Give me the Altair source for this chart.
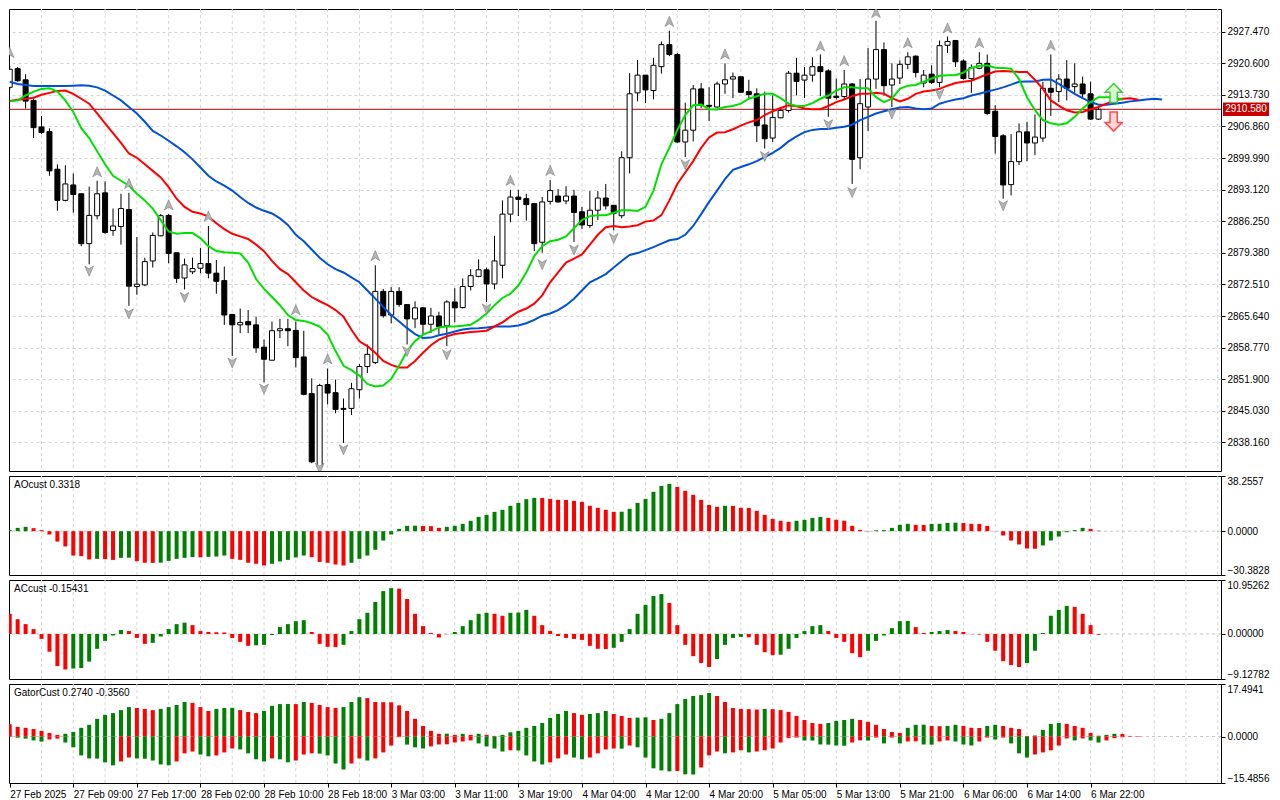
import json
import altair as alt
import pandas as pd

# ---------------- data ----------------
OPEN = [2915.35, 2919.41, 2916.99, 2912.51, 2906.74, 2905.74, 2897.55, 2890.78, 2894.13, 2892.21,
        2881.37, 2887.44, 2892.42, 2884.24, 2885.09, 2888.79, 2872.06, 2872.40, 2877.61, 2883.08,
        2887.51, 2879.39, 2873.90, 2875.26, 2876.03, 2877.04, 2874.96, 2873.34, 2865.99, 2863.72,
        2864.43, 2863.72, 2858.87, 2856.03, 2862.44, 2862.87, 2862.51, 2856.74, 2848.77, 2832.87,
        2850.75, 2848.98, 2845.56, 2845.56, 2849.62, 2854.66, 2855.52, 2870.99, 2865.86, 2870.99,
        2868.13, 2865.01, 2867.42, 2863.85, 2865.65, 2863.51, 2868.70, 2867.48, 2872.06, 2874.26,
        2875.69, 2872.61, 2876.67, 2887.79, 2891.50, 2891.14, 2890.07, 2881.67, 2890.56, 2891.72,
        2890.65, 2891.72, 2888.30, 2885.31, 2888.64, 2891.29, 2889.71, 2887.44, 2900.05, 2914.15,
        2918.00, 2914.65, 2919.84, 2924.63, 2922.49, 2903.47, 2906.03, 2915.01, 2911.44, 2911.08,
        2916.08, 2917.15, 2917.64, 2914.43, 2913.94, 2907.17, 2904.33, 2908.73, 2910.31, 2918.43,
        2916.93, 2918.00, 2919.84, 2918.92, 2913.43, 2913.36, 2916.08, 2900.05, 2911.08, 2917.15,
        2923.56, 2915.86, 2917.36, 2920.35, 2922.13, 2916.29, 2918.21, 2916.42, 2924.48, 2925.54,
        2921.06, 2917.27, 2919.50, 2920.57, 2910.16, 2904.82, 2894.20, 2899.20, 2905.67, 2903.26,
        2904.33, 2915.14, 2914.43, 2917.15, 2915.50, 2916.08, 2913.94, 2908.45]
HIGH = [2919.99, 2919.77, 2918.21, 2912.87, 2909.09, 2906.46, 2898.62, 2898.41, 2896.63, 2892.30,
        2893.77, 2895.05, 2894.92, 2889.00, 2892.21, 2892.42, 2882.81, 2878.32, 2883.81, 2887.79,
        2887.79, 2879.39, 2878.11, 2878.32, 2880.46, 2885.22, 2877.83, 2876.40, 2865.99, 2867.27,
        2866.93, 2865.50, 2860.52, 2864.43, 2865.01, 2865.01, 2864.43, 2862.44, 2852.10, 2850.90,
        2854.24, 2851.82, 2847.70, 2851.12, 2855.18, 2859.45, 2876.67, 2871.54, 2871.91, 2871.91,
        2868.13, 2868.85, 2867.63, 2867.42, 2866.57, 2869.07, 2871.69, 2873.83, 2875.82, 2877.96,
        2876.18, 2883.08, 2890.78, 2893.06, 2893.06, 2892.21, 2890.07, 2891.50, 2895.20, 2893.28,
        2893.85, 2893.06, 2889.37, 2892.79, 2892.79, 2894.35, 2889.71, 2901.46, 2918.43, 2921.27,
        2918.00, 2921.76, 2925.33, 2927.68, 2922.83, 2912.02, 2915.86, 2916.29, 2915.35, 2916.57,
        2920.57, 2918.56, 2917.64, 2917.00, 2915.14, 2914.43, 2913.58, 2910.86, 2918.92, 2921.76,
        2919.77, 2921.91, 2922.49, 2919.28, 2917.27, 2919.13, 2916.29, 2917.15, 2923.90, 2929.82,
        2925.12, 2920.57, 2921.21, 2922.98, 2922.28, 2919.13, 2920.14, 2925.54, 2926.40, 2925.54,
        2921.42, 2920.35, 2922.98, 2922.49, 2911.44, 2905.18, 2905.18, 2907.53, 2907.87, 2909.45,
        2916.57, 2922.49, 2918.21, 2921.27, 2920.57, 2917.70, 2916.57, 2910.86]
LOW = [2914.86, 2916.57, 2910.74, 2904.33, 2905.18, 2896.12, 2888.51, 2890.56, 2888.08, 2880.82,
       2876.89, 2886.65, 2883.51, 2883.08, 2881.16, 2867.85, 2870.26, 2872.12, 2876.18, 2882.96,
       2877.10, 2872.83, 2871.42, 2874.75, 2874.96, 2873.83, 2870.48, 2863.72, 2856.95, 2861.93,
       2861.93, 2857.65, 2851.24, 2856.03, 2860.86, 2859.09, 2854.45, 2848.40, 2833.66, 2832.74,
       2846.42, 2844.49, 2838.08, 2844.13, 2847.70, 2853.25, 2855.18, 2865.28, 2864.07, 2867.63,
       2859.45, 2863.00, 2861.59, 2861.93, 2861.59, 2859.09, 2864.28, 2867.27, 2871.20, 2874.05,
       2868.70, 2871.42, 2873.83, 2886.01, 2887.36, 2886.38, 2879.75, 2879.39, 2889.86, 2890.29,
       2889.92, 2881.74, 2884.52, 2884.73, 2886.50, 2888.79, 2884.24, 2886.87, 2896.63, 2912.30,
       2911.93, 2912.72, 2918.34, 2922.13, 2903.26, 2900.18, 2903.60, 2910.86, 2908.02, 2910.95,
       2913.94, 2913.00, 2914.15, 2913.00, 2903.47, 2902.04, 2903.47, 2908.60, 2909.88, 2913.58,
       2913.00, 2916.57, 2913.43, 2908.94, 2912.72, 2912.72, 2894.35, 2897.55, 2905.88, 2915.01,
       2913.58, 2911.08, 2916.08, 2919.28, 2917.49, 2915.35, 2916.08, 2915.35, 2922.83, 2919.77,
       2917.00, 2914.15, 2919.28, 2909.30, 2900.97, 2891.14, 2891.85, 2898.47, 2899.32, 2900.61,
       2903.47, 2909.15, 2912.15, 2912.51, 2914.15, 2912.87, 2908.24, 2908.24]
CLOSE = [2919.28, 2916.78, 2912.36, 2906.59, 2905.52, 2897.19, 2890.78, 2894.35, 2892.06, 2881.37,
         2887.51, 2892.21, 2883.81, 2885.22, 2889.00, 2872.12, 2872.55, 2877.46, 2883.17, 2887.44,
         2879.24, 2873.83, 2876.76, 2875.97, 2877.04, 2874.96, 2873.19, 2865.86, 2863.72, 2864.22,
         2863.72, 2858.72, 2856.24, 2862.44, 2862.87, 2862.44, 2856.59, 2848.62, 2833.94, 2850.54,
         2848.89, 2845.35, 2845.35, 2849.83, 2854.66, 2857.31, 2870.99, 2865.71, 2870.99, 2868.13,
         2865.01, 2867.42, 2863.85, 2865.65, 2863.36, 2868.70, 2867.42, 2872.06, 2874.41, 2875.69,
         2872.61, 2877.61, 2887.79, 2891.50, 2890.99, 2889.86, 2881.37, 2890.44, 2892.91, 2890.44,
         2891.72, 2888.15, 2885.44, 2888.64, 2891.29, 2889.58, 2887.94, 2900.05, 2913.94, 2918.00,
         2914.80, 2920.14, 2924.63, 2922.49, 2903.47, 2906.03, 2915.01, 2911.59, 2911.23, 2916.08,
         2917.00, 2917.64, 2914.28, 2913.79, 2907.02, 2904.18, 2908.81, 2910.31, 2918.43, 2916.63,
         2918.00, 2919.84, 2918.77, 2913.00, 2913.15, 2916.08, 2899.69, 2911.80, 2917.15, 2923.56,
         2915.71, 2917.15, 2920.35, 2921.98, 2918.56, 2918.00, 2916.42, 2924.41, 2925.33, 2920.91,
         2917.27, 2919.63, 2920.57, 2909.67, 2904.67, 2894.13, 2899.20, 2905.67, 2903.26, 2904.54,
         2915.14, 2914.28, 2917.15, 2915.14, 2916.08, 2913.94, 2908.45, 2910.58]

# Alligator (jaw blue, teeth red, lips green), drawn with their forward shift
JAW = [2916.57, 2916.08, 2915.86, 2915.65, 2915.65, 2915.65, 2915.65, 2915.65, 2915.71, 2915.78,
       2915.71, 2915.35, 2914.65, 2913.58, 2912.51, 2911.08, 2909.67, 2907.87, 2905.88, 2904.88,
       2903.75, 2902.53, 2901.25, 2899.69, 2897.91, 2896.12, 2894.88, 2893.98, 2892.91, 2891.50,
       2890.22, 2889.22, 2888.51, 2887.94, 2886.87, 2885.44, 2883.30, 2881.89, 2880.09, 2878.32,
       2876.89, 2875.82, 2875.11, 2874.05, 2872.98, 2871.20, 2869.41, 2867.63, 2865.86, 2864.43,
       2863.00, 2861.72, 2860.86, 2860.95, 2861.44, 2861.80, 2862.29, 2862.72, 2862.93, 2863.00,
       2863.15, 2863.36, 2863.36, 2863.36, 2863.57, 2864.07, 2864.79, 2865.71, 2866.20, 2866.93,
       2868.00, 2869.41, 2871.20, 2872.98, 2873.83, 2874.75, 2876.18, 2877.61, 2878.90, 2879.32,
       2879.96, 2880.61, 2881.37, 2882.10, 2882.38, 2883.30, 2885.22, 2887.79, 2890.44, 2892.91,
       2895.41, 2897.40, 2898.04, 2898.62, 2899.32, 2900.18, 2901.12, 2902.19, 2903.60, 2904.67,
       2905.61, 2906.10, 2906.31, 2906.31, 2906.59, 2906.80, 2907.23, 2908.24, 2908.94, 2909.67,
       2910.16, 2910.59, 2910.95, 2911.08, 2910.74, 2910.59, 2910.74, 2911.80, 2912.30, 2912.72,
       2913.00, 2913.58, 2913.94, 2914.43, 2914.86, 2915.35, 2915.93, 2916.57, 2916.63, 2916.63,
       2917.00, 2917.06, 2916.08, 2915.01, 2913.94, 2913.00, 2912.15, 2911.59, 2911.59, 2911.80,
       2912.02, 2912.30, 2912.51, 2912.72, 2912.87, 2912.72]
TEETH = [2912.36, 2912.66, 2912.87, 2913.09, 2913.73, 2914.15, 2914.58, 2914.65, 2913.94, 2912.87,
         2911.80, 2909.67, 2907.53, 2905.39, 2903.26, 2900.97, 2900.05, 2898.62, 2897.19, 2895.78,
         2893.64, 2891.14, 2889.37, 2888.30, 2887.94, 2887.23, 2885.80, 2884.52, 2883.51, 2882.96,
         2882.38, 2881.16, 2879.75, 2877.61, 2875.82, 2874.75, 2872.98, 2871.20, 2869.77, 2868.85,
         2868.00, 2866.93, 2865.50, 2862.66, 2860.16, 2859.09, 2857.65, 2855.88, 2855.03, 2854.45,
         2854.45, 2855.88, 2857.65, 2859.30, 2860.52, 2861.22, 2861.72, 2861.93, 2862.14, 2862.29,
         2862.44, 2863.36, 2864.28, 2865.50, 2866.57, 2867.27, 2868.34, 2870.13, 2872.98, 2875.11,
         2877.25, 2878.11, 2879.03, 2881.16, 2883.30, 2884.94, 2885.22, 2884.94, 2885.09, 2885.37,
         2886.16, 2886.38, 2887.57, 2890.78, 2894.35, 2896.85, 2899.32, 2902.19, 2904.45, 2905.52,
         2905.61, 2906.25, 2907.02, 2907.74, 2908.24, 2909.30, 2910.16, 2910.86, 2911.44, 2911.23,
         2910.74, 2910.59, 2910.59, 2911.29, 2912.15, 2912.72, 2913.43, 2913.94, 2913.94, 2914.15,
         2913.94, 2913.00, 2912.30, 2912.87, 2913.94, 2914.43, 2914.65, 2915.01, 2915.71, 2916.29,
         2916.57, 2916.78, 2917.49, 2918.21, 2918.77, 2918.92, 2918.77, 2918.71, 2918.71, 2917.00,
         2915.01, 2912.51, 2911.38, 2910.37, 2909.88, 2910.01, 2910.59, 2911.08, 2911.80, 2912.51,
         2912.87, 2913.00, 2912.66]
LIPS = [2912.30, 2912.51, 2913.58, 2914.43, 2915.01, 2915.14, 2914.43, 2912.51, 2910.01, 2906.46,
        2904.33, 2901.46, 2898.62, 2896.12, 2895.05, 2893.98, 2892.21, 2890.78, 2889.00, 2886.50,
        2884.02, 2883.51, 2883.66, 2883.66, 2882.59, 2880.82, 2879.75, 2879.49, 2879.39, 2879.24,
        2877.25, 2873.68, 2871.54, 2869.77, 2867.99, 2865.86, 2864.79, 2864.58, 2864.07, 2863.36,
        2861.59, 2858.02, 2854.81, 2853.89, 2852.68, 2850.90, 2850.33, 2850.54, 2851.97, 2854.81,
        2858.02, 2860.16, 2861.59, 2862.29, 2863.15, 2863.36, 2863.36, 2863.51, 2863.72, 2864.79,
        2866.20, 2868.00, 2869.56, 2870.48, 2872.27, 2875.11, 2878.68, 2880.82, 2881.89, 2882.23,
        2882.96, 2884.73, 2886.50, 2887.36, 2887.57, 2887.57, 2888.08, 2888.64, 2888.64, 2888.47,
        2889.37, 2892.91, 2898.62, 2902.19, 2906.10, 2909.30, 2911.44, 2911.59, 2910.59, 2910.52,
        2911.08, 2911.29, 2911.80, 2912.87, 2913.43, 2913.94, 2913.94, 2913.00, 2911.80, 2911.29,
        2911.29, 2911.93, 2912.87, 2913.58, 2914.65, 2915.35, 2915.35, 2915.14, 2915.14, 2913.21,
        2912.15, 2912.87, 2915.01, 2915.71, 2915.86, 2916.57, 2917.27, 2917.85, 2918.00, 2918.00,
        2918.56, 2919.63, 2919.99, 2920.14, 2919.63, 2919.56, 2919.41, 2917.15, 2913.21, 2910.37,
        2908.24, 2907.53, 2907.23, 2907.53, 2908.94, 2910.74, 2912.15, 2913.21, 2913.21, 2913.21,
        2912.66]

FR_UP_BAR = [0, 11, 15, 20, 25, 36, 40, 46, 63, 68, 83, 90, 102, 105, 109, 113, 118, 122, 131]
FR_UP_PRICE = [2922.83, 2896.91, 2894.35, 2889.71, 2887.23, 2866.93, 2856.24, 2878.68, 2895.05, 2897.19,
               2929.60, 2922.49, 2924.26, 2921.06, 2931.53, 2924.97, 2928.17, 2924.97, 2924.41]
FR_DN_BAR = [10, 15, 22, 28, 32, 39, 42, 50, 55, 60, 67, 71, 76, 85, 95, 103, 106, 111, 117, 125]
FR_DN_PRICE = [2875.48, 2866.20, 2869.77, 2855.52, 2849.83, 2832.60, 2836.65, 2858.02, 2857.31, 2867.27,
               2876.89, 2880.09, 2882.59, 2898.62, 2900.39, 2907.32, 2892.57, 2909.67, 2913.94, 2889.71]

SIGNAL_BAR = [138.9]
SIGNAL_UP_PRICE = [2914.1]
SIGNAL_DN_PRICE = [2907.9]

AO = [0.8, 2.3, 3.0, 2.1, 0.7, -2.3, -7.2, -10.6, -16.9, -17.3,
      -19.6, -19.2, -19.4, -19.9, -18.5, -18.4, -20.8, -21.9, -22.0, -21.8,
      -20.6, -19.2, -18.5, -18.0, -18.1, -17.8, -17.6, -16.9, -19.2, -19.9,
      -21.9, -22.6, -23.8, -22.6, -21.0, -19.9, -18.2, -16.9, -18.0, -21.3,
      -21.9, -23.1, -23.8, -21.9, -19.2, -16.9, -12.9, -6.5, -2.3, 1.6,
      3.7, 3.8, 3.6, 3.5, 2.3, 3.0, 3.7, 5.1, 7.2, 9.9,
      11.3, 13.4, 14.8, 17.6, 19.6, 22.2, 23.1, 23.0, 22.4, 21.7,
      21.6, 21.0, 20.3, 17.6, 16.2, 14.8, 13.4, 13.5, 15.5, 19.6,
      22.4, 27.3, 31.4, 32.8, 30.7, 28.0, 25.2, 21.7, 18.2, 16.9,
      17.6, 17.5, 16.2, 16.1, 14.1, 11.3, 8.5, 7.2, 6.5, 7.2,
      7.9, 9.2, 9.9, 9.2, 7.9, 7.2, 3.7, 0.9, -0.2, 0.6,
      0.7, 2.3, 4.4, 5.1, 4.4, 4.3, 5.0, 5.1, 5.8, 5.9,
      5.7, 5.1, 5.0, 3.7, -0.1, -3.0, -6.5, -9.2, -12.0, -12.1,
      -9.9, -6.5, -3.7, -0.7, 0.7, 2.3, 1.6, 0.33]
AC = [4.1, 3.0, 2.0, 1.0, -1.0, -3.6, -6.5, -7.2, -7.0, -6.9,
      -5.6, -3.0, -1.4, -0.3, 0.8, 0.6, -0.8, -2.0, -1.8, -0.5,
      1.0, 2.0, 2.3, 1.8, 0.6, 0.4, 0.35, 0.3, -0.8, -1.6,
      -2.4, -2.3, -2.2, -0.2, 1.4, 2.0, 2.6, 2.8, 0.4, -2.0,
      -2.6, -2.65, -2.2, 0.6, 3.0, 4.3, 6.5, 8.7, 9.3, 9.2,
      7.1, 4.1, 1.6, 0.2, -0.7, -0.05, 0.4, 1.6, 2.8, 4.1,
      4.3, 4.1, 3.7, 4.3, 4.35, 4.9, 3.7, 1.8, 0.6, -0.4,
      -0.8, -1.0, -1.2, -2.4, -3.0, -3.05, -2.8, -1.6, 1.0, 4.1,
      5.9, 7.7, 8.1, 6.3, 1.8, -2.2, -4.5, -5.9, -6.7, -5.1,
      -2.2, -0.8, -0.6, -0.65, -2.2, -3.7, -4.3, -4.2, -3.0, -0.8,
      0.6, 1.6, 1.8, 0.6, -0.8, -1.6, -3.9, -4.7, -3.4, -1.4,
      -0.3, 1.2, 2.6, 2.65, 1.4, 0.2, 0.4, 0.6, 0.8, 0.6,
      0.4, -0.05, -0.1, -1.6, -3.4, -5.5, -6.3, -6.7, -5.9, -3.4,
      0.2, 3.7, 4.9, 5.7, 5.5, 4.1, 1.8, -0.154]
GATOR_UP = [4.1, 3.2, 2.9, 2.5, 1.9, 1.2, 0.55, 0.9, 1.5, 2.9,
            3.9, 5.9, 7.2, 7.8, 8.8, 9.8, 9.5, 9.2, 8.8, 9.2,
            9.8, 10.5, 11.5, 11.2, 9.8, 8.5, 9.2, 9.5, 9.55, 8.8,
            8.2, 7.8, 8.5, 10.2, 10.8, 10.85, 10.8, 11.5, 11.2, 10.5,
            9.8, 9.5, 9.8, 11.5, 13.1, 12.8, 11.5, 11.45, 11.4, 10.4,
            8.5, 5.9, 3.5, 1.9, 0.9, 0.95, 0.55, 0.9, 0.55, 0.9,
            0.55, 0.2, 0.55, 1.4, 1.9, 2.9, 3.5, 4.5, 6.2, 7.5,
            8.5, 7.8, 7.2, 7.5, 7.8, 8.5, 7.5, 6.85, 6.2, 6.3,
            6.4, 5.5, 5.9, 7.8, 10.8, 12.5, 13.5, 13.8, 14.5, 13.5,
            11.5, 9.5, 9.2, 9.1, 9.0, 9.2, 9.1, 8.8, 8.2, 6.85,
            5.5, 4.5, 4.2, 4.5, 5.2, 5.5, 5.9, 5.5, 4.9, 3.9,
            2.5, 1.5, 1.2, 2.9, 3.9, 3.95, 3.5, 3.45, 3.5, 3.9,
            3.5, 2.9, 2.85, 3.5, 3.9, 3.5, 2.9, 2.5, 0.2, 0.3,
            2.2, 4.2, 4.5, 4.2, 3.5, 2.9, 1.2, 0.27, 0.55, 0.9,
            0.85, 0.2, 0.15]
GATOR_DN = [-0.1, -0.4, -0.7, -1.3, -1.7, -1.0, -0.7, -2.0, -3.6, -6.3,
            -7.3, -7.35, -8.6, -9.6, -8.3, -7.0, -7.3, -7.4, -8.0, -9.3,
            -9.6, -8.3, -5.6, -5.0, -6.0, -6.6, -6.3, -5.3, -4.0, -4.3,
            -5.6, -7.6, -8.3, -7.3, -7.6, -8.6, -8.0, -6.0, -5.6, -5.7,
            -6.3, -9.0, -11.0, -9.0, -7.3, -8.0, -7.3, -5.3, -3.0, -0.2,
            -2.7, -3.6, -4.0, -3.3, -2.65, -2.6, -2.0, -1.65, -1.3, -2.3,
            -3.3, -4.0, -5.0, -4.6, -4.65, -6.3, -8.3, -9.3, -8.6, -7.3,
            -6.0, -7.0, -7.6, -7.0, -5.6, -4.3, -4.0, -4.05, -3.0, -3.6,
            -7.0, -10.6, -11.3, -11.6, -11.5, -12.6, -12.65, -10.3, -6.3, -5.0,
            -5.6, -5.3, -4.6, -5.3, -5.0, -4.6, -4.0, -2.0, -0.55, -0.35,
            -1.3, -1.35, -2.65, -2.7, -3.0, -3.05, -2.0, -1.3, -1.35, -0.35,
            -2.3, -0.35, -2.3, -1.65, -1.6, -2.65, -2.7, -1.65, -1.3, -1.65,
            -2.65, -3.0, -1.65, -0.35, -1.0, -0.35, -2.3, -5.6, -7.0, -6.0,
            -5.3, -4.6, -3.0, -0.65, -1.3, -0.65, -1.3, -2.0, -1.3, -0.55,
            -0.25]

TIME_LABELS = ["27 Feb 2025", "27 Feb 09:00", "27 Feb 17:00", "28 Feb 02:00", "28 Feb 10:00",
               "28 Feb 18:00", "3 Mar 03:00", "3 Mar 11:00", "3 Mar 19:00", "4 Mar 04:00",
               "4 Mar 12:00", "4 Mar 20:00", "5 Mar 05:00", "5 Mar 13:00", "5 Mar 21:00",
               "6 Mar 06:00", "6 Mar 14:00", "6 Mar 22:00"]
PRICE_TICKS = [2838.16, 2845.03, 2851.90, 2858.77, 2865.64, 2872.51, 2879.38, 2886.25,
               2893.12, 2899.99, 2906.86, 2913.73, 2920.60, 2927.47]
PRICE_DOMAIN = [2831.95, 2932.38]
LAST_PRICE = 2910.58
AO_RANGE = [-30.3828, 38.2557]
AC_RANGE = [-9.12782, 10.95262]
GATOR_RANGE = [-15.4856, 17.4941]
TITLES = {"ao": "AOcust 0.3318", "ac": "ACcust -0.15431", "gator": "GatorCust 0.2740 -0.3560"}

# ---------------- styling ----------------
W = 1212
H_MAIN = 462
H_SUB = 99
FONT = "Liberation Sans"
FS = 10
GRID = "#d4d4d4"
GREEN = "#008000"
RED = "#ff0000"
X_DOMAIN = [-0.09, 152.41]
BAR_STEP = 8

xs = alt.Scale(domain=X_DOMAIN, nice=False, zero=False, padding=0)
time_axis = alt.Axis(
    values=list(range(0, BAR_STEP * len(TIME_LABELS), BAR_STEP)),
    labelExpr=json.dumps(TIME_LABELS) + "[round(datum.value / %d)]" % BAR_STEP,
    labelAlign="left", labelPadding=2, tickSize=4, grid=False, domain=False,
    labelOverlap=False, labelFlush=False, title=None)


def xenc(field="i", axis=None):
    return alt.X(f"{field}:Q", scale=xs, axis=axis)


def vgrid(axis=None):
    df = pd.DataFrame({"g": list(range(4, 153, 4))})
    return alt.Chart(df).mark_rule(color=GRID, strokeDash=[3, 3], strokeWidth=1).encode(
        x=xenc("g", axis))


def rising(vals, first, key=lambda v: v):
    out = [first]
    for a, b in zip(vals[:-1], vals[1:]):
        out.append("up" if key(b) > key(a) else "down")
    return out


col_scale = alt.Scale(domain=["up", "down"], range=[GREEN, RED])

# ---------------- main price panel ----------------
ys = alt.Scale(domain=PRICE_DOMAIN, nice=False, zero=False, padding=0)
yax = alt.Axis(orient="right", values=PRICE_TICKS, format=".3f", grid=True, gridDash=[3, 3],
               gridColor=GRID, tickSize=4, domain=False, labelPadding=2, title=None)

candles = pd.DataFrame({"i": list(range(len(CLOSE))), "o": OPEN, "h": HIGH, "l": LOW, "c": CLOSE})

price_line = alt.Chart(pd.DataFrame({"p": [LAST_PRICE]})).mark_rule(
    color="#b40000", strokeWidth=1).encode(y=alt.Y("p:Q", scale=ys, axis=yax))

wicks = alt.Chart(candles).mark_rule(color="black", strokeWidth=1, clip=True).encode(
    x=xenc(), y=alt.Y("l:Q", scale=ys, axis=yax), y2="h:Q")

bodies = alt.Chart(candles).mark_bar(width=5, stroke="black", strokeWidth=1, clip=True).encode(
    x=xenc(), y=alt.Y("o:Q", scale=ys, axis=yax), y2="c:Q",
    fill=alt.condition("datum.c >= datum.o", alt.value("white"), alt.value("black")))


def ma_line(vals, color):
    df = pd.DataFrame({"i": list(range(len(vals))), "v": vals})
    return alt.Chart(df).mark_line(color=color, strokeWidth=2, clip=True).encode(
        x=xenc(), y=alt.Y("v:Q", scale=ys, axis=yax))


UP_FR = "M0,-1L0.8,0.85L0,0.35L-0.8,0.85Z"
DN_FR = "M0,1L0.8,-0.85L0,-0.35L-0.8,-0.85Z"
frac_up = alt.Chart(pd.DataFrame({"i": FR_UP_BAR, "p": FR_UP_PRICE})).mark_point(
    shape=UP_FR, filled=True, fill="#b4b4b4", stroke="#7a7a7a", strokeWidth=0.6,
    size=120, opacity=1, clip=True).encode(x=xenc(), y=alt.Y("p:Q", scale=ys, axis=yax))
frac_dn = alt.Chart(pd.DataFrame({"i": FR_DN_BAR, "p": FR_DN_PRICE})).mark_point(
    shape=DN_FR, filled=True, fill="#b4b4b4", stroke="#7a7a7a", strokeWidth=0.6,
    size=120, opacity=1, clip=True).encode(x=xenc(), y=alt.Y("p:Q", scale=ys, axis=yax))

UP_ARROW = "M0,-1L0.9,-0.1L0.38,-0.1L0.38,1L-0.38,1L-0.38,-0.1L-0.9,-0.1Z"
DN_ARROW = "M0,1L0.9,0.1L0.38,0.1L0.38,-1L-0.38,-1L-0.38,0.1L-0.9,0.1Z"
sig_up = alt.Chart(pd.DataFrame({"i": SIGNAL_BAR, "p": SIGNAL_UP_PRICE})).mark_point(
    shape=UP_ARROW, filled=True, fill="#d8ffd0", stroke="#44c844", strokeWidth=1.5,
    size=361, opacity=1).encode(x=xenc(), y=alt.Y("p:Q", scale=ys, axis=yax))
sig_dn = alt.Chart(pd.DataFrame({"i": SIGNAL_BAR, "p": SIGNAL_DN_PRICE})).mark_point(
    shape=DN_ARROW, filled=True, fill="#ffd6d6", stroke="#ff4a4a", strokeWidth=1.5,
    size=361, opacity=1).encode(x=xenc(), y=alt.Y("p:Q", scale=ys, axis=yax))

tag_df = pd.DataFrame({"p": [LAST_PRICE], "t": ["%.3f" % LAST_PRICE]})
tag_bg = alt.Chart(tag_df).mark_point(
    shape="M-1,-0.29L1,-0.29L1,0.29L-1,0.29Z", filled=True, fill="#c80000", stroke="#c80000",
    strokeWidth=0, size=2116, opacity=1).encode(
    x=alt.value(W + 25), y=alt.Y("p:Q", scale=ys, axis=yax))
tag_tx = alt.Chart(tag_df).mark_text(color="white", fontSize=FS, font=FONT).encode(
    x=alt.value(W + 25), y=alt.Y("p:Q", scale=ys, axis=yax), text="t:N")

main = alt.layer(
    vgrid(), price_line, wicks, bodies,
    ma_line(JAW, "#0050d8"), ma_line(TEETH, "#ff0000"), ma_line(LIPS, "#00e000"),
    frac_up, frac_dn, sig_up, sig_dn, tag_bg, tag_tx,
).properties(width=W, height=H_MAIN)


# ---------------- indicator panels ----------------
def panel_title(text):
    return alt.Chart(pd.DataFrame({"t": [text]})).mark_text(
        align="left", baseline="top", fontSize=FS, font=FONT, color="black").encode(
        x=alt.value(5), y=alt.value(4), text="t:N")


def sub_axis(rng, fmt):
    return alt.Axis(orient="right", values=[rng[0], 0, rng[1]], format=fmt, labelFlush=True,
                    grid=False, tickSize=4, domain=False, labelPadding=2, title=None)


def hist_layer(vals, colors, yscale, yaxis, xaxis=None):
    df = pd.DataFrame({"i": list(range(len(vals))), "v": vals, "col": colors})
    return alt.Chart(df).mark_bar(width=4, clip=True).encode(
        x=xenc("i", xaxis), y=alt.Y("v:Q", scale=yscale, axis=yaxis), y2=alt.datum(0),
        color=alt.Color("col:N", scale=col_scale, legend=None))


def zero_line(yscale, yaxis):
    return alt.Chart(pd.DataFrame({"z": [0.0]})).mark_rule(
        color="#c4c4c4", strokeDash=[3, 3], strokeWidth=1).encode(
        y=alt.Y("z:Q", scale=yscale, axis=yaxis))


def sub_scale(rng):
    return alt.Scale(domain=rng, nice=False, zero=False, padding=0)


ao_s = sub_scale(AO_RANGE)
ao_ax = sub_axis(AO_RANGE, ".4f")
ao_panel = alt.layer(
    vgrid(), zero_line(ao_s, ao_ax), hist_layer(AO, rising(AO, "up"), ao_s, ao_ax),
    panel_title(TITLES["ao"]),
).properties(width=W, height=H_SUB)

ac_s = sub_scale(AC_RANGE)
ac_ax = sub_axis(AC_RANGE, ".5f")
ac_panel = alt.layer(
    vgrid(), zero_line(ac_s, ac_ax), hist_layer(AC, rising(AC, "down"), ac_s, ac_ax),
    panel_title(TITLES["ac"]),
).properties(width=W, height=H_SUB)

g_s = sub_scale(GATOR_RANGE)
g_ax = sub_axis(GATOR_RANGE, ".4f")
gator_panel = alt.layer(
    vgrid(time_axis), zero_line(g_s, g_ax),
    hist_layer(GATOR_UP, rising(GATOR_UP, "down"), g_s, g_ax, time_axis),
    hist_layer(GATOR_DN, rising(GATOR_DN, "up", key=abs), g_s, g_ax, time_axis),
    panel_title(TITLES["gator"]),
).properties(width=W, height=H_SUB)

chart = alt.vconcat(main, ao_panel, ac_panel, gator_panel, spacing=3).resolve_scale(
    x="independent", y="independent", color="independent"
).properties(
    padding={"left": 0, "top": 0, "right": 2, "bottom": 0}, background="white"
).configure_view(
    stroke="black", strokeWidth=1
).configure_axis(
    labelFont=FONT, labelFontSize=FS, labelColor="black", tickColor="black", tickWidth=1
)

chart.save("out.html", embed_options={"renderer": "svg", "actions": False})
